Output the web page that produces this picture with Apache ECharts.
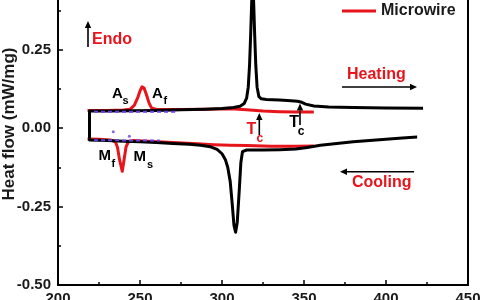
<!DOCTYPE html>
<html><head><meta charset="utf-8">
<script src="https://cdn.jsdelivr.net/npm/echarts@6/dist/echarts.min.js"></script>
<style>html,body{margin:0;padding:0;background:#fff}#c{width:480px;height:300px}</style>
</head><body><div id="c"></div>
<script>
// ---- data (temperature °C, heat flow mW/mg) ----
const ribbonCooling = [[419,-0.029],[410,-0.032],[400,-0.036],[390,-0.040],[380,-0.044],[370,-0.049],[360,-0.055],[352,-0.062],[345,-0.067],[335,-0.069],[325,-0.070],[315,-0.070],[312.5,-0.075],[311.5,-0.11],[310.5,-0.20],[309.3,-0.30],[308.3,-0.332],[307.3,-0.31],[306.2,-0.24],[305,-0.17],[303.5,-0.125],[302,-0.10],[300,-0.082],[297,-0.068],[293,-0.060],[287,-0.055],[280,-0.052],[270,-0.049],[260,-0.046],[250,-0.044],[240,-0.042],[230,-0.040],[219.2,-0.038]];
const ribbonHeating = [[219.2,0.054],[230,0.054],[245,0.055],[260,0.056],[275,0.058],[290,0.060],[300,0.062],[307,0.065],[311,0.069],[313.5,0.078],[315,0.095],[316,0.13],[316.8,0.20],[317.5,0.30],[318.1,0.40],[318.7,0.48],[319.3,0.40],[319.9,0.30],[320.6,0.20],[321.4,0.13],[322.5,0.10],[324,0.093],[327,0.091],[335,0.089],[342,0.087],[346,0.085],[348,0.083],[351,0.076],[356,0.070],[365,0.067],[380,0.065],[400,0.064],[422.6,0.063]];
const wireHeating = [[218,0.056],[230,0.056],[240,0.057],[244,0.060],[246.5,0.072],[248.5,0.095],[250,0.118],[251.2,0.131],[252.5,0.127],[254,0.105],[255.5,0.080],[257,0.064],[260,0.059],[275,0.059],[290,0.060],[305,0.061],[315,0.058],[325,0.054],[335,0.052],[345,0.051],[356,0.051]];
const wireCooling = [[356,-0.057],[345,-0.058],[330,-0.058],[315,-0.056],[305,-0.055],[295,-0.053],[285,-0.050],[270,-0.046],[255,-0.042],[246,-0.040],[243,-0.043],[241.5,-0.060],[240.3,-0.10],[239.2,-0.138],[238.5,-0.135],[237.5,-0.10],[236.3,-0.062],[235,-0.044],[232,-0.038],[225,-0.036],[218,-0.035]];
const baselineHeat = [[222,0.052],[272,0.052]];
const baselineCool = [[222,-0.039],[262,-0.040]];
const onsetMarks = [[233.7,-0.012],[243.5,-0.026]];
const yTickLabels = {'-0.5':'-0.50','-0.25':'-0.25','0':'0.00','0.25':'0.25','0.5':'0.50'};

const FONT = "'Liberation Sans', Arial, sans-serif";
const RED = '#e8141c';
const chart = echarts.init(document.getElementById('c'), null, {renderer:'canvas'});

function arrow(x1, y1, x2, y2, color) {
  const ang = Math.atan2(y2 - y1, x2 - x1), L = 7, W = 3.2;
  const bx = x2 - L * Math.cos(ang), by = y2 - L * Math.sin(ang);
  const px = -Math.sin(ang) * W, py = Math.cos(ang) * W;
  return [
    {type:'line', shape:{x1:x1, y1:y1, x2:bx, y2:by}, style:{stroke:color, lineWidth:1.6}, z:100},
    {type:'polygon', shape:{points:[[x2,y2],[bx+px,by+py],[bx-px,by-py]]}, style:{fill:color}, z:100}
  ];
}
function txt(x, y, s, size, color) {
  return {type:'text', x:x, y:y, z:100, style:{text:s, fill:color, font:'bold ' + size + 'px ' + FONT, textAlign:'left', textVerticalAlign:'middle'}};
}

const graphics = [].concat(
  arrow(88, 47, 88, 21, '#000'),
  [txt(92, 40, 'Endo', 16, RED)],
  [txt(112, 93.5, 'A', 15, '#000'), txt(122.5, 101, 's', 11, '#000')],
  [txt(152, 93.5, 'A', 15, '#000'), txt(163.5, 101, 'f', 11, '#000')],
  [txt(98.5, 156, 'M', 15, '#000'), txt(111.5, 164, 'f', 11, '#000')],
  [txt(133.5, 157, 'M', 15, '#000'), txt(147, 165, 's', 11, '#000')],
  [txt(246.5, 129.7, 'T', 16, RED), txt(256.5, 139, 'c', 12, RED)],
  arrow(259.3, 135, 259.3, 113, '#000'),
  [txt(289.3, 122.7, 'T', 16, '#000'), txt(297.7, 132, 'c', 12, '#000')],
  arrow(300, 125, 300, 103.5, '#000'),
  [txt(347, 74.5, 'Heating', 16, RED)],
  arrow(342, 87, 417, 87, '#000'),
  arrow(414, 171.7, 340, 171.7, '#000'),
  [txt(352, 183, 'Cooling', 16, RED)]
);

const lineSeries = (name, data, color, width, z, dashed) => ({
  type:'line', name:name, data:data, symbol:'none', z:z, silent:true,
  lineStyle:{color:color, width:width, type: dashed ? [4,3] : 'solid', join:'round'},
  itemStyle:{color:color}
});

chart.setOption({
  animation:false,
  backgroundColor:'#fff',
  grid:{left:58, right:12, top:-29, bottom:15, outerBoundsMode:'none', containLabel:false,
    show:true, borderColor:'#000', borderWidth:2, backgroundColor:'transparent'},
  legend:{data:['Microwire'], left:342, top:3, icon:'rect', itemWidth:34, itemHeight:3, padding:0,
    textStyle:{fontSize:16, fontWeight:'bold', color:'#1a1a1a', fontFamily:FONT}},
  xAxis:{type:'value', min:200, max:450, interval:50,
    axisLine:{onZero:false, lineStyle:{color:'#000', width:2}},
    axisTick:{inside:true, length:5, lineStyle:{color:'#000', width:1.5}},
    minorTick:{show:true, splitNumber:2, length:3, lineStyle:{color:'#000', width:1.5}},
    axisLabel:{margin:6, fontSize:15, fontWeight:'bold', color:'#1a1a1a', fontFamily:FONT},
    splitLine:{show:false}},
  yAxis:{type:'value', min:-0.5, max:0.5, interval:0.25,
    name:'Heat flow (mW/mg)', nameLocation:'middle', nameGap:40, nameMoveOverlap:false,
    nameTextStyle:{fontSize:17, fontWeight:'bold', color:'#1a1a1a', fontFamily:FONT, padding:[0,0,0,8]},
    axisLine:{onZero:false, lineStyle:{color:'#000', width:2}},
    axisTick:{inside:true, length:5, lineStyle:{color:'#000', width:1.5}},
    minorTick:{show:true, splitNumber:2, length:3, lineStyle:{color:'#000', width:1.5}},
    axisLabel:{margin:7, fontSize:15, fontWeight:'bold', color:'#1a1a1a', fontFamily:FONT,
      formatter: v => yTickLabels[String(v)] || v.toFixed(2)},
    splitLine:{show:false}},
  series:[
    lineSeries('Microwire', wireHeating, RED, 3, 2, false),
    lineSeries('Microwire', wireCooling, RED, 3, 2, false),
    lineSeries('Ribbon', ribbonCooling.concat(ribbonHeating), '#000', 3, 3, false),
    lineSeries('baseline', baselineHeat, '#6a3fe0', 2, 4, true),
    lineSeries('baseline', baselineCool, '#6a3fe0', 2, 4, true),
    {type:'scatter', name:'onset', data:onsetMarks, symbolSize:3, z:4, itemStyle:{color:'#6a3fe0'}, silent:true}
  ],
  graphic: graphics
});
</script>
</body></html>
